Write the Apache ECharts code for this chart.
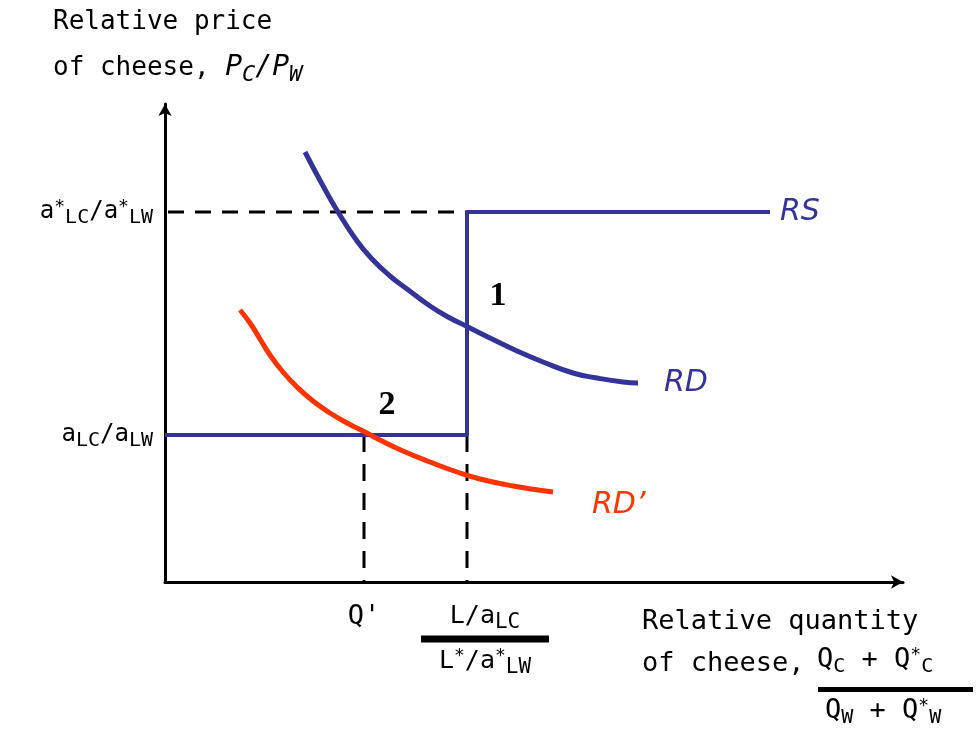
<!DOCTYPE html>
<html>
<head>
<meta charset="utf-8">
<script src="https://cdn.jsdelivr.net/npm/echarts@6/dist/echarts.min.js"></script>
<style>
  html, body { margin: 0; padding: 0; background: #fff; }
  #chart { width: 976px; height: 736px; }
</style>
</head>
<body>
<div id="chart"></div>
<script>
// values (x: quantity, y: price, arbitrary units from the origin)
var rsX = [0, 302, 302, 605];
var rsY = [147, 147, 370, 370];
var rdX = [140, 157, 173, 192, 207, 225, 242, 265, 285, 301, 325, 352, 378, 408, 432, 458, 473];
var rdY = [430, 398, 370, 341, 323, 306, 293, 276, 264, 256, 244, 231, 220, 209, 204, 200, 199];
var rdPrimeX = [75, 85, 95, 105, 118, 132, 148, 165, 182, 198, 215, 238, 265, 292, 315, 348, 388];
var rdPrimeY = [272, 259, 243, 227, 210, 195, 181, 169, 159, 151, 142, 131, 120, 110, 103, 96, 90];
var priceTicks = [147, 370];
var quantityTicks = [199, 302];
var equilibriaX = [302, 199];
var equilibriaY = [255, 147];
var equilibriaNames = ['1', '2'];

var blue = '#333399';
var red = '#ff3300';
var mono = 'DejaVu Sans Mono';

function pairs(xs, ys) {
  var out = [];
  for (var i = 0; i < xs.length; i++) out.push([xs[i], ys[i]]);
  return out;
}

var chart = echarts.init(document.getElementById('chart'));

var tickRich = {
  a: { fontFamily: mono, fontSize: 24, color: '#000' },
  s: { fontFamily: mono, fontSize: 20, color: '#000', padding: [12, 0, 0, 0] },
  p: { fontFamily: mono, fontSize: 18, color: '#000', padding: [0, 0, 10, 0] }
};

var option = {
  animation: false,
  backgroundColor: '#fff',
  grid: { left: 165, right: 73, top: 104, bottom: 154 },
  xAxis: {
    type: 'value',
    min: 0,
    max: 738,
    splitLine: { show: false },
    axisTick: { show: false },
    axisLine: {
      symbol: ['none', 'arrow'],
      symbolSize: [10, 12],
      lineStyle: { color: '#000', width: 3 }
    },
    axisLabel: {
      customValues: quantityTicks,
      margin: 18,
      color: '#000',
      fontFamily: mono,
      formatter: function (v) {
        if (v === quantityTicks[0]) return '{q|Q\'}';
        return '{sp|}{a|L/a}{s|LC}\n{sp|}{bar|}\n{sp|}{a|L}{p|*}{a|/a}{p|*}{s|LW}';
      },
      rich: {
        q: { fontFamily: mono, fontSize: 27, color: '#000', lineHeight: 34 },
        a: { fontFamily: mono, fontSize: 25, color: '#000', lineHeight: 28 },
        s: { fontFamily: mono, fontSize: 21, color: '#000', padding: [12, 0, 0, 0] },
        p: { fontFamily: mono, fontSize: 18, color: '#000', padding: [0, 0, 10, 0] },
        sp: { width: 36 },
        bar: { width: 128, height: 7, backgroundColor: '#000', lineHeight: 10 }
      }
    }
  },
  yAxis: {
    type: 'value',
    min: 0,
    max: 478,
    splitLine: { show: false },
    axisTick: { show: false },
    axisLine: {
      symbol: ['none', 'arrow'],
      symbolSize: [10, 12],
      lineStyle: { color: '#000', width: 3 }
    },
    axisLabel: {
      customValues: priceTicks,
      margin: 12,
      formatter: function (v) {
        if (v === priceTicks[1]) return '{a|a}{p|*}{s|LC}{a|/a}{p|*}{s|LW}';
        return '{a|a}{s|LC}{a|/a}{s|LW}';
      },
      rich: tickRich
    }
  },
  series: [
    {
      name: 'upper dash',
      type: 'line',
      data: [[3, rsY[2]], [rsX[1], rsY[2]]],
      showSymbol: false,
      lineStyle: { color: '#000', width: 3, type: [16, 11] },
      z: 1
    },
    {
      name: 'Q dash',
      type: 'line',
      data: [[quantityTicks[0], rsY[0]], [quantityTicks[0], 0]],
      showSymbol: false,
      lineStyle: { color: '#000', width: 3, type: [17, 12] },
      z: 1
    },
    {
      name: 'L dash',
      type: 'line',
      data: [[quantityTicks[1], rsY[0]], [quantityTicks[1], 0]],
      showSymbol: false,
      lineStyle: { color: '#000', width: 3, type: [17, 12] },
      z: 1
    },
    {
      name: 'RS',
      type: 'line',
      data: pairs(rsX, rsY),
      showSymbol: false,
      lineStyle: { color: blue, width: 4 },
      endLabel: {
        show: true, formatter: 'RS', distance: 10,
        color: blue, fontFamily: 'DejaVu Sans', fontStyle: 'italic', fontSize: 30
      },
      z: 2
    },
    {
      name: 'RD',
      type: 'line',
      data: pairs(rdX, rdY),
      smooth: 0.5,
      showSymbol: false,
      lineStyle: { color: blue, width: 5 },
      endLabel: {
        show: true, formatter: 'RD', distance: 26,
        color: blue, fontFamily: 'DejaVu Sans', fontStyle: 'italic', fontSize: 30
      },
      z: 3
    },
    {
      name: "RD'",
      type: 'line',
      data: pairs(rdPrimeX, rdPrimeY),
      smooth: 0.5,
      showSymbol: false,
      lineStyle: { color: red, width: 5 },
      endLabel: {
        show: true, formatter: "RD\u2019", distance: 39, offset: [0, 13],
        color: red, fontFamily: 'DejaVu Sans', fontStyle: 'italic', fontSize: 30
      },
      z: 3
    },
    {
      name: 'equilibria',
      type: 'scatter',
      symbolSize: 0,
      itemStyle: { opacity: 1 },
      data: equilibriaX.map(function (x, i) {
        return {
          value: [x, equilibriaY[i]],
          name: equilibriaNames[i],
          label: { offset: i === 0 ? [31, -31] : [23, -30] }
        };
      }),
      label: {
        show: true,
        position: 'inside',
        formatter: '{b}',
        color: '#000',
        fontFamily: 'Liberation Serif',
        fontWeight: 'bold',
        fontSize: 34
      },
      z: 4
    }
  ],
  graphic: [
    {
      type: 'text', left: 53, top: 9,
      style: { text: 'Relative price', font: '26px "DejaVu Sans Mono"', fill: '#000' }
    },
    {
      type: 'text', left: 53, top: 54,
      style: {
        text: '{t|of cheese, }{i|P}{s|C}{i|/P}{s|W}',
        rich: {
          t: { fontFamily: mono, fontSize: 26, color: '#000' },
          i: { fontFamily: mono, fontSize: 28, fontStyle: 'italic', color: '#000' },
          s: { fontFamily: mono, fontSize: 22, fontStyle: 'italic', color: '#000', padding: [14, 0, 0, 0] }
        }
      }
    },
    {
      type: 'text', left: 642, top: 608,
      style: { text: 'Relative quantity', font: '27px "DejaVu Sans Mono"', fill: '#000' }
    },
    {
      type: 'text', left: 642, top: 650,
      style: {
        text: '{t|of cheese,}',
        rich: { t: { fontFamily: mono, fontSize: 27, color: '#000' } }
      }
    },
    {
      type: 'text', left: 817, top: 646,
      style: {
        text: '{t|Q}{s|C}{t| + Q}{p|*}{s|C}',
        rich: {
          t: { fontFamily: mono, fontSize: 27, color: '#000' },
          s: { fontFamily: mono, fontSize: 20, color: '#000', padding: [14, 0, 0, 0] },
          p: { fontFamily: mono, fontSize: 18, color: '#000', padding: [0, 0, 10, 0] }
        }
      }
    },
    {
      type: 'rect', left: 818, top: 687,
      shape: { width: 155, height: 5 },
      style: { fill: '#000' }
    },
    {
      type: 'text', left: 825, top: 697,
      style: {
        text: '{t|Q}{s|W}{t| + Q}{p|*}{s|W}',
        rich: {
          t: { fontFamily: mono, fontSize: 27, color: '#000' },
          s: { fontFamily: mono, fontSize: 20, color: '#000', padding: [14, 0, 0, 0] },
          p: { fontFamily: mono, fontSize: 18, color: '#000', padding: [0, 0, 10, 0] }
        }
      }
    }
  ]
};

chart.setOption(option);
</script>
</body>
</html>
